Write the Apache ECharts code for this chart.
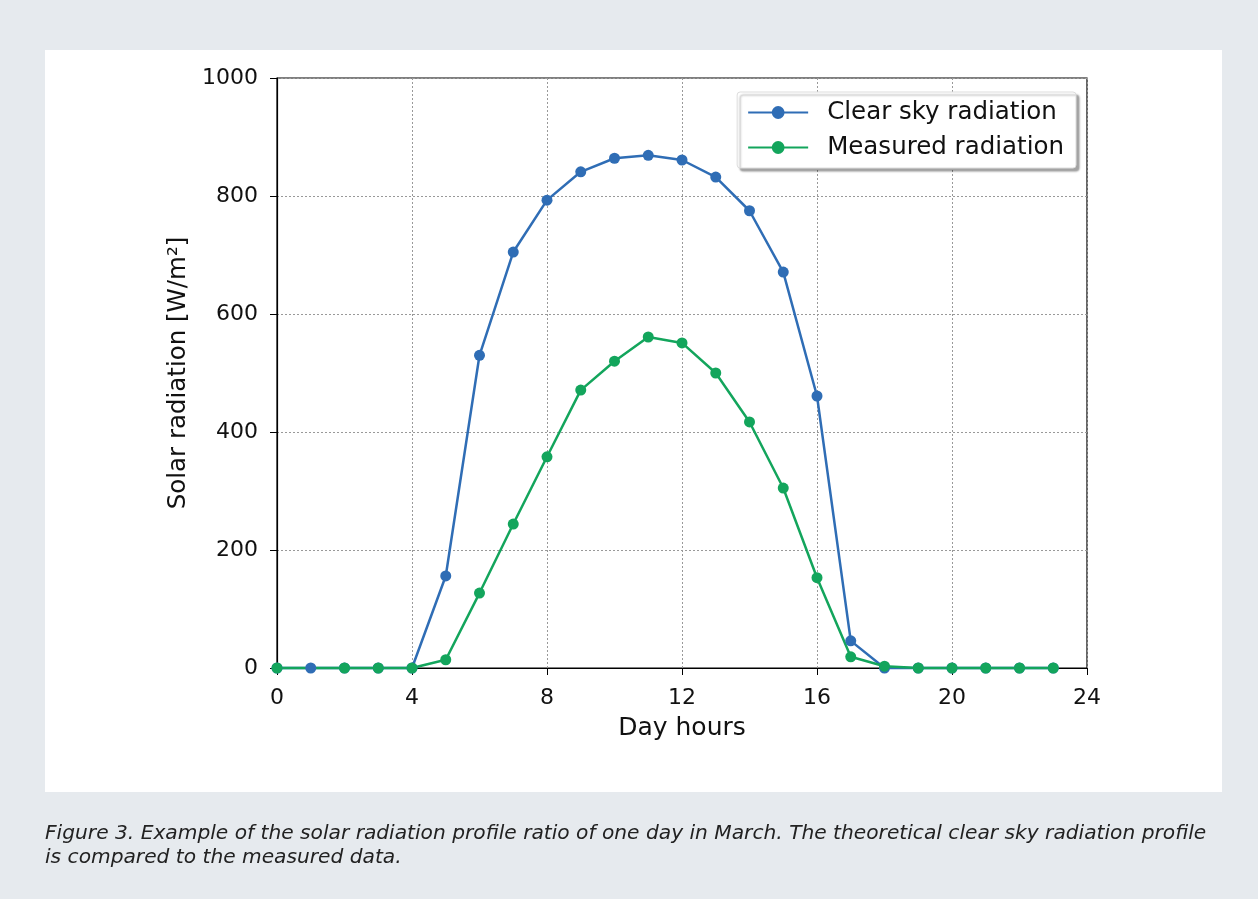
<!DOCTYPE html>
<html><head><meta charset="utf-8">
<script src="https://cdn.jsdelivr.net/npm/echarts@6/dist/echarts.min.js"></script>
<style>html,body{margin:0;padding:0;background:#e6eaee;}#c{width:1258px;height:899px;}</style>
</head><body><div id="c"></div>
<script>
const hours = [0,1,2,3,4,5,6,7,8,9,10,11,12,13,14,15,16,17,18,19,20,21,22,23];
const clearSky = [0,0,0,0,0,156,530,705,793,841,864,869,861,832,775,671,461,46,0,0,0,0,0,0];
const measuredHours = [0,2,3,4,5,6,7,8,9,10,11,12,13,14,15,16,17,18,19,20,21,22,23];
const measured = [0,0,0,0,14,127,244,358,471,520,561,551,500,417,305,153,19,3,0,0,0,0,0];
const xTicks = [0,4,8,12,16,20,24];
const yTicks = [0,200,400,600,800,1000];

const chart = echarts.init(document.getElementById('c'));
const tickFont = {fontFamily:'DejaVu Sans', fontSize:22, color:'#111'};
chart.setOption({
  backgroundColor:'#e6eaee',
  animation:false,
  graphic:[
    {type:'rect', z:-10, shape:{x:45,y:50,width:1177,height:742}, style:{fill:'#ffffff'}},
    {type:'text', left:45, top:822, style:{text:'Figure 3. Example of the solar radiation profile ratio of one day in March. The theoretical clear sky radiation profile\nis compared to the measured data.', font:'italic 20.2px "DejaVu Sans"', fill:'#222', lineHeight:24}}
  ],
  grid:{left:277, right:171, top:78, bottom:231, show:true, borderColor:'#000', borderWidth:1.2, backgroundColor:'transparent'},
  legend:{
    right:182, top:92, orient:'vertical', itemWidth:60, itemHeight:16, itemGap:10,
    padding:[8,12,8,10],
    backgroundColor:'#fff', borderColor:'#ddd', borderWidth:1, borderRadius:3,
    shadowColor:'rgba(0,0,0,0.35)', shadowOffsetX:3, shadowOffsetY:3, shadowBlur:2,
    textStyle:{fontFamily:'DejaVu Sans', fontSize:24.5, color:'#111', padding:[0,0,0,14]},
    data:['Clear sky radiation','Measured radiation']
  },
  xAxis:{
    type:'value', min:0, max:24, interval:4,
    name:'Day hours', nameLocation:'middle', nameGap:48,
    nameTextStyle:{fontFamily:'DejaVu Sans', fontSize:25, color:'#111'},
    axisLine:{show:true, lineStyle:{color:'#000', width:1.2}},
    axisTick:{show:true, inside:false, length:7, lineStyle:{color:'#000'}},
    axisLabel:Object.assign({margin:19, formatter:v=>xTicks.includes(v)?String(v):''}, tickFont),
    splitLine:{show:true, lineStyle:{color:'#999', type:[2,2], width:1}}
  },
  yAxis:{
    type:'value', min:0, max:1000, interval:200,
    name:'Solar radiation [W/m²]', nameLocation:'middle', nameGap:86,
    nameTextStyle:{fontFamily:'DejaVu Sans', fontSize:24.5, color:'#111'},
    axisLine:{show:true, lineStyle:{color:'#000', width:1.2}},
    axisTick:{show:true, inside:false, length:7, lineStyle:{color:'#000'}},
    axisLabel:Object.assign({margin:19, formatter:v=>yTicks.includes(v)?String(v):''}, tickFont),
    splitLine:{show:true, lineStyle:{color:'#999', type:[2,2], width:1}}
  },
  series:[
    {name:'Clear sky radiation', type:'line', data:hours.map((h,i)=>[h,clearSky[i]]),
     symbol:'circle', symbolSize:11, showAllSymbol:true, clip:false,
     lineStyle:{color:'#2f6db5', width:2.5}, itemStyle:{color:'#2f6db5'}},
    {name:'Measured radiation', type:'line', data:measuredHours.map((h,i)=>[h,measured[i]]),
     symbol:'circle', symbolSize:11, showAllSymbol:true, clip:false,
     lineStyle:{color:'#13a55c', width:2.5}, itemStyle:{color:'#13a55c'}}
  ]
});
</script></body></html>
